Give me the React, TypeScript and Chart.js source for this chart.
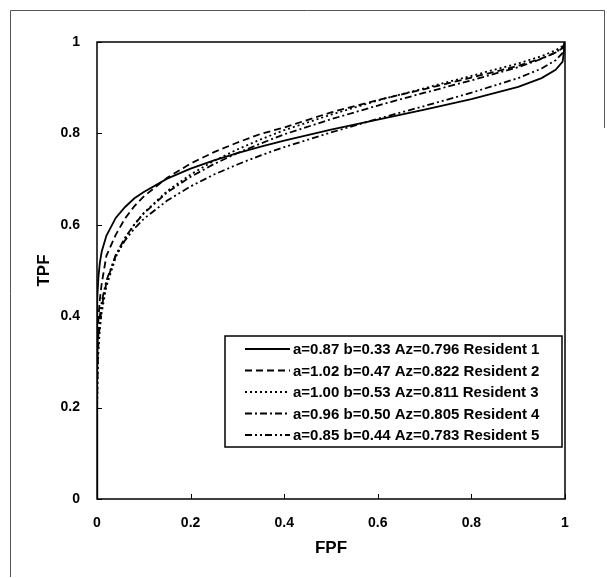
import { useEffect, useRef } from "react";
import { Chart, registerables } from "chart.js";

Chart.register(...registerables);

// ---- data ----
const fpf = [0, 0.0002, 0.001, 0.003, 0.006, 0.01, 0.02, 0.04, 0.06, 0.08, 0.1, 0.15, 0.2, 0.25, 0.3, 0.35, 0.4, 0.5, 0.6, 0.7, 0.8, 0.9, 0.95, 0.98, 0.995, 1];
const tpfResident1 = [0, 0.383, 0.44, 0.485, 0.516, 0.541, 0.576, 0.615, 0.639, 0.658, 0.672, 0.701, 0.723, 0.741, 0.757, 0.771, 0.784, 0.808, 0.83, 0.852, 0.875, 0.902, 0.921, 0.939, 0.957, 1];
const tpfResident2 = [0, 0.26, 0.333, 0.393, 0.436, 0.471, 0.532, 0.578, 0.614, 0.641, 0.662, 0.703, 0.734, 0.759, 0.78, 0.799, 0.813, 0.846, 0.873, 0.897, 0.922, 0.948, 0.964, 0.977, 0.987, 1];
const tpfResident3 = [0, 0.19, 0.262, 0.324, 0.37, 0.408, 0.465, 0.529, 0.57, 0.601, 0.626, 0.674, 0.71, 0.74, 0.765, 0.787, 0.807, 0.841, 0.872, 0.899, 0.926, 0.953, 0.969, 0.982, 0.991, 1];
const tpfResident4 = [0, 0.209, 0.279, 0.339, 0.384, 0.42, 0.473, 0.534, 0.572, 0.601, 0.625, 0.671, 0.705, 0.733, 0.757, 0.778, 0.798, 0.831, 0.861, 0.889, 0.916, 0.945, 0.963, 0.977, 0.988, 1];
const tpfResident5 = [0, 0.239, 0.305, 0.36, 0.399, 0.431, 0.478, 0.532, 0.566, 0.592, 0.613, 0.653, 0.684, 0.71, 0.732, 0.752, 0.77, 0.802, 0.832, 0.86, 0.889, 0.921, 0.942, 0.96, 0.976, 1];
const seriesLabels = [
  "a=0.87 b=0.33 Az=0.796 Resident 1",
  "a=1.02 b=0.47 Az=0.822 Resident 2",
  "a=1.00 b=0.53 Az=0.811 Resident 3",
  "a=0.96 b=0.50 Az=0.805 Resident 4",
  "a=0.85 b=0.44 Az=0.783 Resident 5",
];
const xTickValues = [0, 0.2, 0.4, 0.6, 0.8, 1];
const yTickValues = [0, 0.2, 0.4, 0.6, 0.8, 1];
const xTitle = "FPF";
const yTitle = "TPF";

const seriesTpf = [tpfResident1, tpfResident2, tpfResident3, tpfResident4, tpfResident5];
const dashPatterns = [[], [7, 4], [2, 3], [7, 3, 2, 3], [7, 3, 2, 3, 2, 3]];

const FONT = "'Liberation Sans', Arial, sans-serif";

const decorPlugin = {
  id: "decor",
  beforeDraw(chart: any) {
    const ctx = chart.ctx;
    ctx.save();
    ctx.fillStyle = "#fff";
    ctx.fillRect(0, 0, chart.width, chart.height);
    // outer frame (scan border)
    ctx.strokeStyle = "#555";
    ctx.lineWidth = 1;
    ctx.beginPath();
    ctx.moveTo(10.5, 577);
    ctx.lineTo(10.5, 10.5);
    ctx.lineTo(604.5, 10.5);
    ctx.lineTo(604.5, 128);
    ctx.stroke();
    ctx.restore();
  },
  afterDatasetsDraw(chart: any) {
    const ctx = chart.ctx;
    const a = chart.chartArea;
    const xs = chart.scales.x;
    const ys = chart.scales.y;
    ctx.save();
    ctx.strokeStyle = "#000";
    ctx.lineWidth = 1.5;
    ctx.setLineDash([]);
    ctx.strokeRect(a.left, a.top, a.right - a.left, a.bottom - a.top);
    // inward tick marks
    ctx.lineWidth = 1;
    ctx.beginPath();
    xTickValues.forEach((v) => {
      const px = Math.round(xs.getPixelForValue(v)) + 0.5;
      ctx.moveTo(px, a.bottom);
      ctx.lineTo(px, a.bottom - 5);
    });
    yTickValues.forEach((v) => {
      const py = Math.round(ys.getPixelForValue(v)) + 0.5;
      ctx.moveTo(a.left, py);
      ctx.lineTo(a.left + 5, py);
    });
    ctx.stroke();

    // legend box
    const lx = 225, ly = 336, lw = 337, lh = 111;
    ctx.fillStyle = "#fff";
    ctx.fillRect(lx, ly, lw, lh);
    ctx.lineWidth = 1.5;
    ctx.strokeRect(lx, ly, lw, lh);
    ctx.font = `bold 15px ${FONT}`;
    ctx.textBaseline = "middle";
    ctx.textAlign = "left";
    ctx.fillStyle = "#000";
    chart.data.datasets.forEach((ds: any, i: number) => {
      const y = ly + 13 + i * 21.5;
      ctx.setLineDash(ds.borderDash || []);
      ctx.lineWidth = 1.8;
      ctx.beginPath();
      ctx.moveTo(245, y);
      ctx.lineTo(290, y);
      ctx.stroke();
      ctx.setLineDash([]);
      ctx.fillText(ds.label, 293, y + 1);
    });
    ctx.restore();
  },
};

export default function App() {
  const ref = useRef<HTMLCanvasElement | null>(null);

  useEffect(() => {
    if (!ref.current) return;
    const datasets = seriesTpf.map((tpf, i) => ({
      label: seriesLabels[i],
      data: fpf.map((x, j) => ({ x, y: tpf[j] })),
      showLine: true,
      borderColor: "#000",
      backgroundColor: "#000",
      borderWidth: 1.8,
      borderDash: dashPatterns[i],
      pointRadius: 0,
      pointHoverRadius: 0,
      tension: 0,
      fill: false,
    }));
    const tickFont = { family: FONT, size: 14, weight: "bold" as const };
    const titleFont = { family: FONT, size: 17, weight: "bold" as const };
    const chart = new Chart(ref.current, {
      type: "scatter",
      data: { datasets },
      plugins: [decorPlugin],
      options: {
        responsive: false,
        animation: false,
        events: [],
        layout: { padding: { left: 0, top: 42, right: 42, bottom: 0 } },
        plugins: {
          legend: { display: false },
          tooltip: { enabled: false },
        },
        scales: {
          x: {
            type: "linear",
            min: 0,
            max: 1,
            afterFit: (s: any) => {
              s.height = 79;
            },
            afterBuildTicks: (s: any) => {
              s.ticks = xTickValues.map((v) => ({ value: v }));
            },
            grid: { display: false, drawTicks: false },
            border: { display: false },
            ticks: {
              padding: 16,
              color: "#000",
              font: tickFont,
              maxRotation: 0,
              autoSkip: false,
              callback: (v: any) => String(v),
            },
            title: {
              display: true,
              text: xTitle,
              color: "#000",
              font: titleFont,
              padding: { top: 0, bottom: 19 },
            },
          },
          y: {
            type: "linear",
            min: 0,
            max: 1,
            afterFit: (s: any) => {
              s.width = 97;
            },
            afterBuildTicks: (s: any) => {
              s.ticks = yTickValues.map((v) => ({ value: v }));
            },
            grid: { display: false, drawTicks: false },
            border: { display: false },
            ticks: {
              padding: 17,
              color: "#000",
              font: tickFont,
              autoSkip: false,
              callback: (v: any) => String(v),
            },
            title: {
              display: true,
              text: yTitle,
              color: "#000",
              font: titleFont,
              padding: { top: 34, bottom: 0 },
            },
          },
        },
      },
    });
    return () => chart.destroy();
  }, []);

  return (
    <div style={{ position: "absolute", left: 0, top: 0, width: 607, height: 578, background: "#fff" }}>
      <canvas ref={ref} width={607} height={578} style={{ display: "block", width: 607, height: 578 }} />
    </div>
  );
}
